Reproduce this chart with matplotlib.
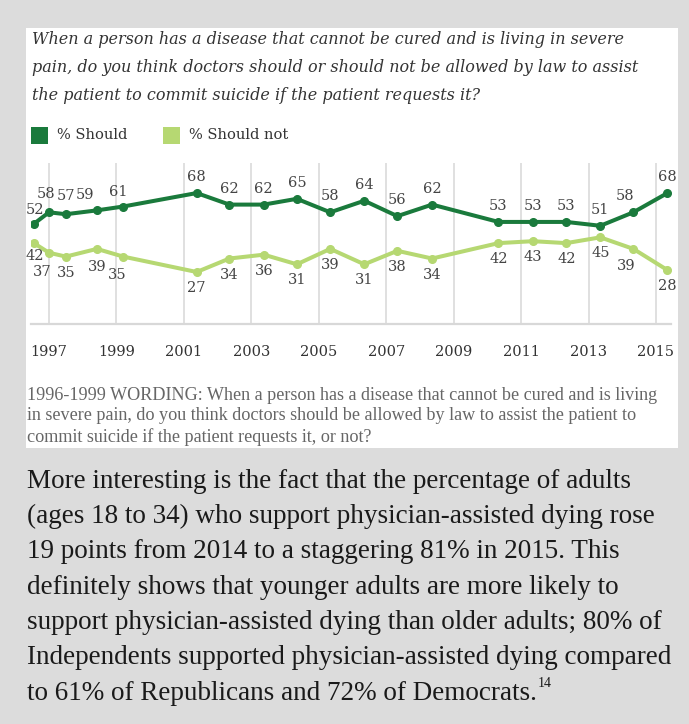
import matplotlib
matplotlib.use("Agg")
import matplotlib.pyplot as plt
from matplotlib.patches import Rectangle

# survey dates (decimal years) and results
dates = [1996.55, 1997.0, 1997.5, 1998.42, 1999.2, 2001.38, 2002.35, 2003.37,
         2004.35, 2005.34, 2006.35, 2007.33, 2008.36, 2010.33, 2011.35,
         2012.34, 2013.35, 2014.33, 2015.34]
should = [52, 58, 57, 59, 61, 68, 62, 62, 65, 58, 64, 56, 62, 53, 53, 53, 51, 58, 68]
should_not = [42, 37, 35, 39, 35, 27, 34, 36, 31, 39, 31, 38, 34, 42, 43, 42, 45, 39, 28]
tick_years = list(range(1997, 2016, 2))

title_lines = [
    "When a person has a disease that cannot be cured and is living in severe",
    "pain, do you think doctors should or should not be allowed by law to assist",
    "the patient to commit suicide if the patient requests it?",
]
note_lines = [
    "1996-1999 WORDING: When a person has a disease that cannot be cured and is living",
    "in severe pain, do you think doctors should be allowed by law to assist the patient to",
    "commit suicide if the patient requests it, or not?",
]
body_lines = [
    "More interesting is the fact that the percentage of adults",
    "(ages 18 to 34) who support physician-assisted dying rose",
    "19 points from 2014 to a staggering 81% in 2015. This",
    "definitely shows that younger adults are more likely to",
    "support physician-assisted dying than older adults; 80% of",
    "Independents supported physician-assisted dying compared",
    "to 61% of Republicans and 72% of Democrats.",
]

DARK = "#1a7a3c"
LIGHT = "#b6d872"
W, H = 689, 724


def fx(px):
    return px / W


def fy(py):
    return 1 - py / H


fig = plt.figure(figsize=(W / 100, H / 100), dpi=100)
fig.patch.set_facecolor("#dcdcdc")

# white chart panel
fig.add_artist(Rectangle((fx(26), fy(448)), (678 - 26) / W, (448 - 28) / H,
                         transform=fig.transFigure, facecolor="white",
                         edgecolor="none", zorder=0))

for i, line in enumerate(title_lines):
    fig.text(fx(32), fy(40 + i * 28), line, family="DejaVu Serif",
             style="italic", fontsize=11.5, color="#333333", va="center")

# legend
fig.add_artist(Rectangle((fx(31), fy(144)), 17 / W, 17 / H,
                         transform=fig.transFigure, facecolor=DARK, edgecolor="none"))
fig.text(fx(57), fy(135), "% Should", family="DejaVu Serif", fontsize=10.5,
         color="#333333", va="center")
fig.add_artist(Rectangle((fx(163), fy(144)), 17 / W, 17 / H,
                         transform=fig.transFigure, facecolor=LIGHT, edgecolor="none"))
fig.text(fx(189), fy(135), "% Should not", family="DejaVu Serif", fontsize=10.5,
         color="#333333", va="center")

ax = fig.add_axes([fx(31), fy(324), (671 - 31) / W, (324 - 163) / H])
ax.set_facecolor("none")
ax.set_xlim(1996.466, 2015.446)
ax.set_ylim(0, 83.6)
ax.set_xticks(tick_years)
ax.set_xticklabels([str(y) for y in tick_years], family="DejaVu Serif",
                   fontsize=10.5, color="#333333")
ax.set_yticks([])
ax.tick_params(axis="x", length=0, pad=15)
ax.grid(axis="x", color="#dadada", lw=1.2)
for s in ["top", "left", "right"]:
    ax.spines[s].set_visible(False)
ax.spines["bottom"].set_color("#d8d8d8")
ax.spines["bottom"].set_linewidth(1.6)

ax.plot(dates, should, color=DARK, lw=2.9, marker="o", ms=5.5, zorder=3)
ax.plot(dates, should_not, color=LIGHT, lw=2.9, marker="o", ms=5.5, zorder=3)

up_off = {0: (1, 14), 1: (-3, 18), 2: (0, 18), 3: (-12, 15), 4: (-5, 15), 17: (-8, 16)}
down_off = {0: (1, -13), 1: (-7, -19), 3: (0, -18), 4: (-6, -18), 17: (-7, -17)}
for i, (d, v) in enumerate(zip(dates, should)):
    ax.annotate(str(v), (d, v), xytext=up_off.get(i, (0, 16)),
                textcoords="offset pixels", ha="center", va="center",
                family="DejaVu Serif", fontsize=10.5, color="#444444",
                annotation_clip=False)
for i, (d, v) in enumerate(zip(dates, should_not)):
    ax.annotate(str(v), (d, v), xytext=down_off.get(i, (0, -16)),
                textcoords="offset pixels", ha="center", va="center",
                family="DejaVu Serif", fontsize=10.5, color="#444444",
                annotation_clip=False)

for i, line in enumerate(note_lines):
    fig.text(fx(27), fy(395 + i * 21), line, family="Liberation Serif",
             fontsize=13.1, color="#666666", va="center")

body = []
for i, line in enumerate(body_lines):
    body.append(fig.text(fx(27), fy(481 + i * 35.4), line, family="Liberation Serif",
                         fontsize=19.5, color="#1a1a1a", va="center"))

# footnote marker after the last line
fig.canvas.draw()
bb = body[-1].get_window_extent()
fig.text(bb.x1 / W + 1 / W, fy(481 + 6 * 35.4) + 10 / H, "14",
         family="Liberation Serif", fontsize=10, color="#1a1a1a", va="center")

fig.savefig("out.png", dpi=100, facecolor=fig.get_facecolor())
